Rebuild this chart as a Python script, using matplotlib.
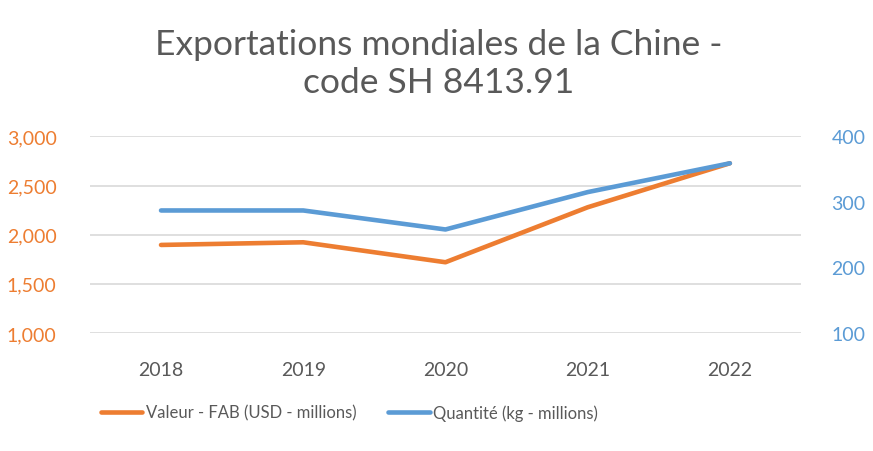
import matplotlib.pyplot as plt
from matplotlib.ticker import FuncFormatter

plt.rcParams['font.family'] = ['Lato', 'DejaVu Sans']

years = ['2018', '2019', '2020', '2021', '2022']
valeur = [1896, 1923, 1720, 2279, 2727]      # USD millions
quantite = [287, 287, 258, 315, 359]         # kg millions

orange = '#ED7D31'
blue = '#5B9BD5'
grey = '#595959'

fig = plt.figure(figsize=(8.73, 4.52), dpi=100)
ax = fig.add_axes([0.103, 0.261, 0.8145, 0.435])
ax2 = ax.twinx()

x = list(range(len(years)))
l1, = ax.plot(x, valeur, color=orange, lw=3.3, solid_capstyle='round',
              solid_joinstyle='round', label='Valeur - FAB (USD - millions)', zorder=3)
l2, = ax2.plot(x, quantite, color=blue, lw=3.3, solid_capstyle='round',
               solid_joinstyle='round', label='Quantité (kg - millions)', zorder=3)

ax.set_xlim(-0.5, 4.5)
ax.set_ylim(1000, 3000)
ax.set_yticks([1000, 1500, 2000, 2500, 3000])
ax.yaxis.set_major_formatter(FuncFormatter(lambda v, p: f'{int(v):,}'))
ax2.set_ylim(100, 400)
ax2.set_yticks([100, 200, 300, 400])

ax.set_xticks(x)
ax.set_xticklabels(years)
ax.grid(axis='y', color='#D9D9D9', lw=1.2)
ax.set_axisbelow(True)

for a in (ax, ax2):
    for s in a.spines.values():
        s.set_visible(False)
ax.tick_params(axis='x', length=0, pad=20, labelsize=14, labelcolor=grey)
ax.tick_params(axis='y', length=0, pad=24, labelsize=14, labelcolor=orange)
ax2.tick_params(axis='y', length=0, pad=22, labelsize=14, labelcolor=blue)

fig.text(0.503, 0.858, 'Exportations mondiales de la Chine -\ncode SH 8413.91',
         ha='center', va='center', fontsize=25.5, color=grey, linespacing=1.22)

fig.legend(handles=[l1, l2], loc='center', bbox_to_anchor=(0.40, 0.085), ncol=2,
           frameon=False, fontsize=12, handlelength=2.5, handletextpad=0.2,
           columnspacing=1.9, labelcolor=grey)

fig.savefig('out.png', dpi=100)
